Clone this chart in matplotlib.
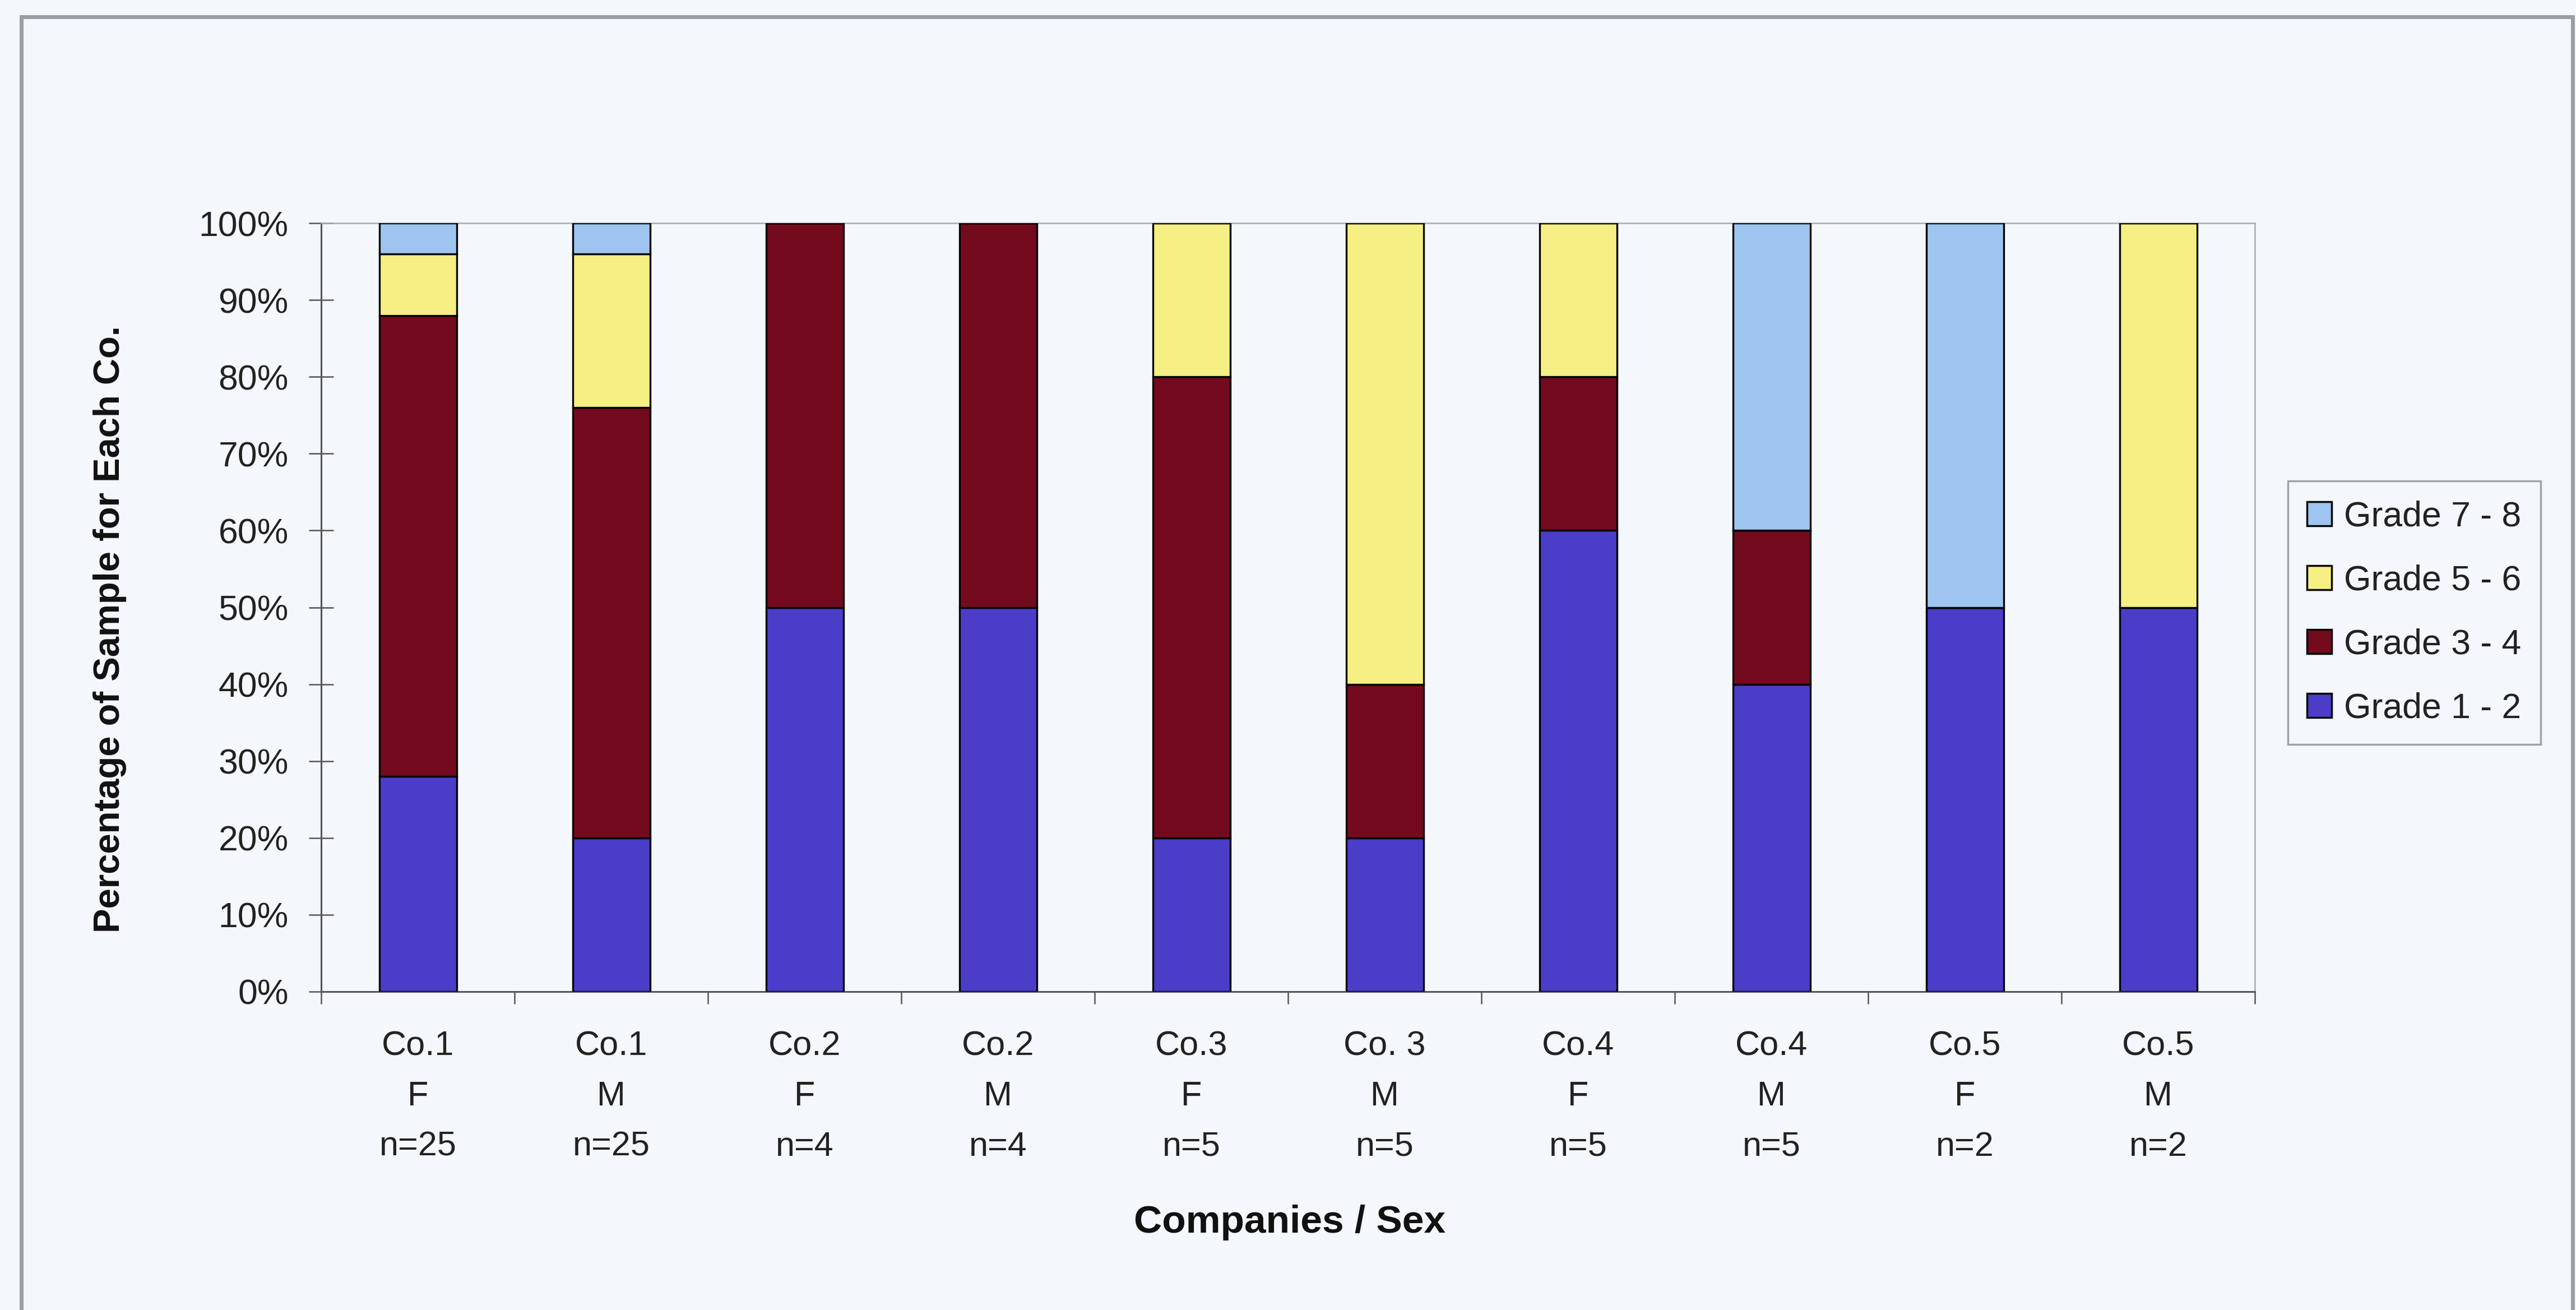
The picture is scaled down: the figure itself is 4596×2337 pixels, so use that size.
import numpy as np
import matplotlib
matplotlib.use("Agg")
import matplotlib.pyplot as plt
from matplotlib.patches import Rectangle, Patch

#----------------------------------------------------
# data (percent of sample per company / sex)
#----------------------------------------------------
tick_labels = ["Co.1\nF\nn=25", "Co.1\nM\nn=25", "Co.2\nF\nn=4", "Co.2\nM\nn=4",
               "Co.3\nF\nn=5", "Co. 3\nM\nn=5", "Co.4\nF\nn=5", "Co.4\nM\nn=5",
               "Co.5\nF\nn=2", "Co.5\nM\nn=2"]

grade_1_2 = [28, 20, 50, 50, 20, 20, 60, 40, 50, 50]
grade_3_4 = [60, 56, 50, 50, 60, 20, 20, 20, 0, 0]
grade_5_6 = [8, 20, 0, 0, 20, 60, 20, 0, 0, 50]
grade_7_8 = [4, 4, 0, 0, 0, 0, 0, 40, 50, 0]

series_names = ["Grade 1 - 2", "Grade 3 - 4", "Grade 5 - 6", "Grade 7 - 8"]
colors = ["#4B3DC8", "#740A1E", "#F5EF84", "#9EC5EF"]

bg = "#F4F7FC"
text_color = "#222222"

plt.rcParams['font.family'] = ['Liberation Sans', 'DejaVu Sans']

W, H = 4596, 2337
fig = plt.figure(figsize=(W / 100, H / 100), dpi=100, facecolor=bg)

# axes placed in pixel terms of the reference
left, right, top, bottom = 573, 4023, 398, 1769
ax = fig.add_axes([left / W, 1 - bottom / H, (right - left) / W, (bottom - top) / H])
ax.set_facecolor(bg)

x = np.arange(len(tick_labels))
base = np.zeros(len(x))
for vals, col in zip([grade_1_2, grade_3_4, grade_5_6, grade_7_8], colors):
    ax.bar(x, vals, width=0.4, bottom=base, color=col, edgecolor="black",
           linewidth=2.4, zorder=3)
    base = base + np.array(vals)

ax.set_xlim(-0.5, len(x) - 0.5)
ax.set_ylim(0, 100)

# y axis
ax.set_yticks(np.arange(0, 101, 10))
ax.set_yticklabels([f"{v}%" for v in range(0, 101, 10)], fontsize=45, color=text_color)
ax.tick_params(axis="y", direction="inout", length=32, width=1.8, color="#555555", pad=26)

# x axis: tick marks between categories, labels at centres
ax.set_xticks(np.arange(-0.5, len(x), 1))
ax.set_xticklabels([])
ax.tick_params(axis="x", which="major", direction="out", length=16, width=1.8, color="#555555")
ax.set_xticks(x, minor=True)
ax.set_xticklabels(tick_labels, minor=True, fontsize=44, color=text_color, linespacing=1.74)
ax.tick_params(axis="x", which="minor", length=0, pad=50)

for s in ["left", "bottom"]:
    ax.spines[s].set_color("#555555")
    ax.spines[s].set_linewidth(2.2)
for s in ["top", "right"]:
    ax.spines[s].set_color("#A8AAAE")
    ax.spines[s].set_linewidth(1.8)

# axis titles
fig.text(196 / W, 1 - 1122 / H, "Percentage of Sample for Each Co.", rotation=90,
         ha="center", va="center", fontsize=47, fontweight="bold", color="#111111")
fig.text(2301 / W, 1 - 2181 / H, "Companies / Sex", ha="center", va="center",
         fontsize=50, fontweight="bold", color="#111111")

# legend (top entry = Grade 7 - 8)
handles = [Patch(facecolor=c, edgecolor="black", linewidth=2.5) for c in colors][::-1]
leg = fig.legend(handles, series_names[::-1], loc="upper left",
                 bbox_to_anchor=(4082 / W, 1 - 858 / H), borderaxespad=0,
                 fontsize=45, handlelength=0.7, handleheight=0.7, handletextpad=0.35,
                 labelspacing=0.88, borderpad=0.55, fancybox=False, frameon=True)
leg.get_frame().set_edgecolor("#8A8E96")
leg.get_frame().set_linewidth(2.5)
leg.get_frame().set_facecolor(bg)
for t in leg.get_texts():
    t.set_color(text_color)

# outer chart border
fig.patches.append(Rectangle((38 / W, -0.02), (4590 - 38) / W, 1.02 - 30 / H,
                             transform=fig.transFigure, fill=False,
                             edgecolor="#9A9EA6", linewidth=5))

fig.savefig("out.png", dpi=100, facecolor=bg)
